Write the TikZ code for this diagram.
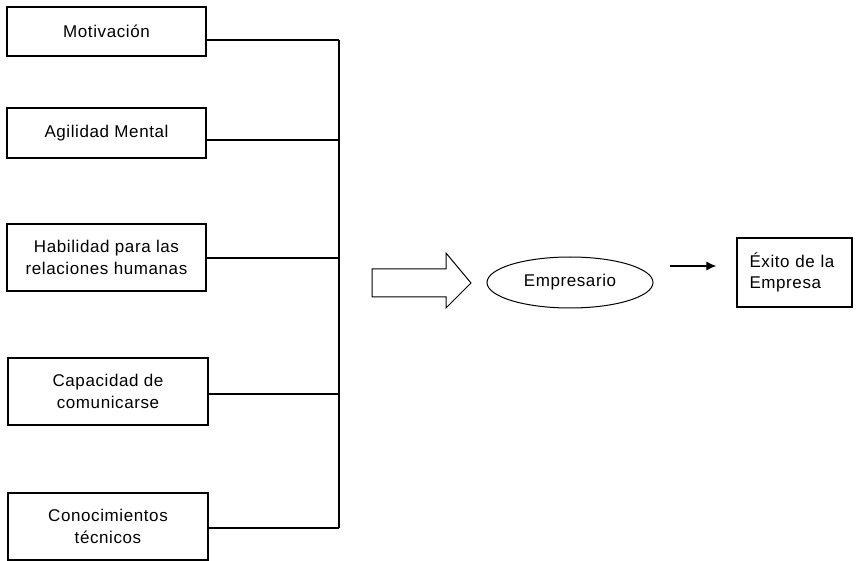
\documentclass[tikz,border=0pt]{standalone}
\usepackage{fontspec}
\setmainfont{Liberation Sans}[LetterSpace=3.5]
\usetikzlibrary{arrows.meta,shapes.geometric}
\begin{document}
\begin{tikzpicture}[x=1pt,y=-1pt,
  every node/.style={font=\fontsize{17}{21.5}\selectfont},
  box/.style={draw,line width=1.2pt,rectangle,minimum width=199pt,inner sep=0pt,align=center},
  conn/.style={line width=1.2pt},
]
\useasboundingbox (0,0) rectangle (857,561);
\node[box,minimum height=49pt] (b1) at (106.5,31.5) {Motivación};
\node[box,minimum height=50pt] (b2) at (106.5,133) {Agilidad Mental};
\node[box,minimum height=67pt] (b3) at (106.5,257.5) {Habilidad para las\\relaciones humanas};
\node[box,minimum height=67pt,minimum width=200pt] (b4) at (108,391.5) {Capacidad de\\comunicarse};
\node[box,minimum height=67pt,minimum width=200pt] (b5) at (108,526.5) {Conocimientos\\técnicos};
\coordinate (j1) at (339,40);
\coordinate (j2) at (339,140);
\coordinate (j3) at (339,258);
\coordinate (j4) at (339,394);
\coordinate (j5) at (339,528);
\draw[conn] (b1.east|-j1) -- (j1);
\draw[conn] (b2.east|-j2) -- (j2);
\draw[conn] (b3.east|-j3) -- (j3);
\draw[conn] (b4.east|-j4) -- (j4);
\draw[conn] (b5.east|-j5) -- (j5);
\draw[conn] (j1) -- (j5);
\draw[line width=1pt] (372,269) -- (446,269) -- (446,253) -- (471,283) -- (446,308) -- (446,297) -- (372,297) -- cycle;
\node[draw,ellipse,line width=1pt,minimum width=166pt,minimum height=51pt,inner sep=0pt] (emp) at (570,282.5) {Empresario};
\node[draw,rectangle,line width=1.2pt,minimum width=115pt,minimum height=69pt,inner sep=0pt,text width=90pt,align=left] (ex) at (794.5,272.5) {Éxito de la\\Empresa};
\coordinate (a1) at (670,266);
\draw[line width=1.2pt,-{Latex[length=10pt,width=9pt]},shorten >=20pt] (a1) -- (ex.west|-a1);
\end{tikzpicture}
\end{document}
